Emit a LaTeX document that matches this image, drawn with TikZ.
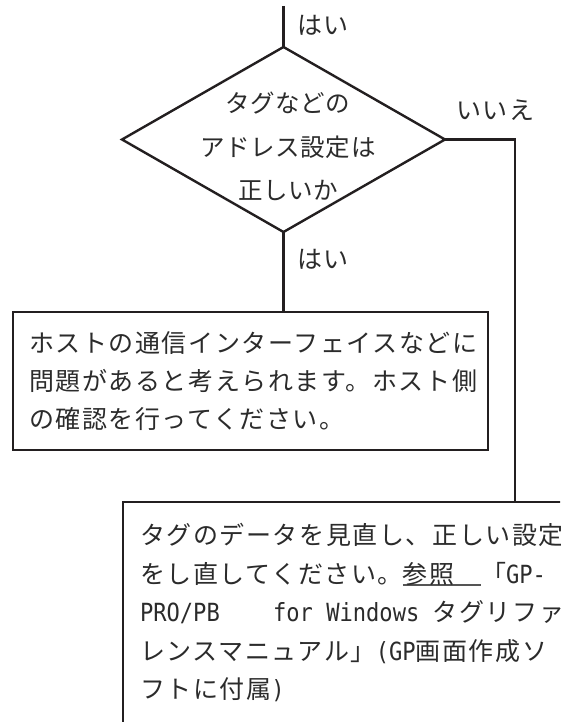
\documentclass[tikz,border=0pt]{standalone}
\usepackage{fontspec}
\usetikzlibrary{shapes.geometric}
\newfontfamily\jpfont{Noto Sans CJK JP}[LetterSpace=6.4]
\newfontfamily\jpfontd{Noto Sans CJK JP}[LetterSpace=2.5]
\newfontfamily\latmono{DejaVu Sans Mono}[FakeStretch=0.884]
\newcommand\lat[1]{{\latmono #1}}
\newsavebox\myulbox
\newcommand\myul[1]{\sbox\myulbox{#1}\rlap{\color{ulgray}\rule[-2.5pt]{\wd\myulbox}{1.2pt}}\usebox\myulbox}
\definecolor{ink}{HTML}{231F20}
\definecolor{txtc}{HTML}{2B2B2B}
\definecolor{ulgray}{HTML}{555555}
\tikzset{
  line/.style={draw=ink, line width=2.4pt},
  shapebox/.style={draw=ink, line width=2.4pt, inner sep=0pt, outer sep=0pt},
  txt/.style={inner sep=0pt, outer sep=0pt, text height=22pt, text depth=3pt,
    font=\jpfont\fontsize{25pt}{30pt}\selectfont, text=txtc},
  dtxt/.style={txt, font=\jpfontd\fontsize{24.5pt}{30pt}\selectfont},
}
\begin{document}
\begin{tikzpicture}[x=1pt,y=-1pt]
\useasboundingbox (0,0) rectangle (560,722);
\clip (0,0) rectangle (560,722);
% shapes
\node[shapebox, diamond, minimum width=323pt, minimum height=185pt] (dec) at (283.5,139.5) {};
\node[shapebox, rectangle, minimum width=475pt, minimum height=138pt, anchor=north west] (box1) at (13,312) {};
\node[shapebox, rectangle, minimum width=500pt, minimum height=300pt, anchor=north west] (box2) at (123,502) {};
\coordinate (start) at (283.5,6);
\coordinate (nocol) at (515,0);
% connectors
\draw[line] (start) -- (dec.north);
\draw[line] (dec.south) -- (dec.south |- box1.north);
\draw[line] (dec.east) -| (nocol |- box2.north);
% labels
\node[txt, anchor=west] (yes1) at (297,25) {はい};
\node[txt, anchor=west] (yes2) at (297,259) {はい};
\node[txt, anchor=west] (no) at (456,110) {いいえ};
% diamond text
\node[dtxt] (d1) at (288,103) {タグなどの};
\node[dtxt] (d2) at (288,147) {アドレス設定は};
\node[dtxt] (d3) at (288,190.5) {正しいか};
% box1 text
\node[txt, anchor=west] (b11) at (29,343) {ホストの通信インターフェイスなどに};
\node[txt, anchor=west] (b12) at (29,381) {問題があると考えられます。ホスト側};
\node[txt, anchor=west] (b13) at (29,419) {の確認を行ってください。};
% box2 text
\node[txt, anchor=west] (b21) at (140,535) {タグのデータを見直し、正しい設定};
\node[txt, anchor=west] (b22) at (140,573.5) {をし直してください。\myul{参照　}「\lat{GP-}};
\node[txt, anchor=west] (b23) at (140,612) {\lat{PRO/PB\ \ \ \ for Windows\ }タグリファ};
\node[txt, anchor=west] (b24) at (140,650.5) {レンスマニュアル」\lat{(GP}画面作成ソ};
\node[txt, anchor=west] (b25) at (140,689) {フトに付属\lat{)}};
\end{tikzpicture}
\end{document}
